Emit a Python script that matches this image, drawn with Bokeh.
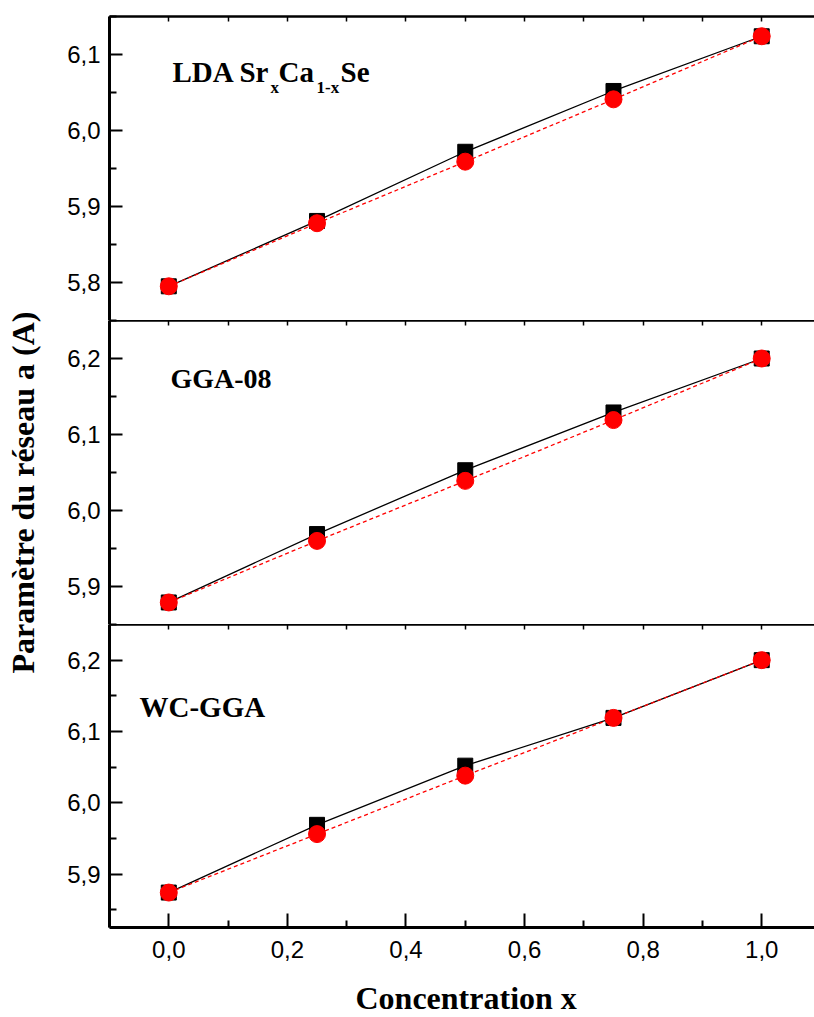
import math
from bokeh.plotting import figure
from bokeh.models import Range1d, LinearAxis, FixedTicker, Label
from bokeh.layouts import row, column
from bokeh.embed import file_html
from bokeh.resources import INLINE

# ---------------- data ----------------
x_conc = [0.0, 0.25, 0.5, 0.75, 1.0]

lda_black = [5.795, 5.881, 5.972, 6.052, 6.124]
lda_red = [5.795, 5.878, 5.959, 6.041, 6.124]

gga_black = [5.879, 5.969, 6.053, 6.129, 6.200]
gga_red = [5.879, 5.960, 6.039, 6.119, 6.200]

wc_black = [5.874, 5.969, 6.052, 6.119, 6.200]
wc_red = [5.874, 5.956, 6.038, 6.119, 6.200]

x_ticks = [0.0, 0.2, 0.4, 0.6, 0.8, 1.0]
x_tick_labels = ["0,0", "0,2", "0,4", "0,6", "0,8", "1,0"]
x_minor = [-0.1, 0.1, 0.3, 0.5, 0.7, 0.9]

lda_yticks = [5.8, 5.9, 6.0, 6.1]
lda_ylabels = ["5,8", "5,9", "6,0", "6,1"]
lda_yminor = [5.75, 5.85, 5.95, 6.05, 6.15]

gga_yticks = [5.9, 6.0, 6.1, 6.2]
gga_ylabels = ["5,9", "6,0", "6,1", "6,2"]
gga_yminor = [5.85, 5.95, 6.05, 6.15, 6.25]

wc_yticks = [5.9, 6.0, 6.1, 6.2]
wc_ylabels = ["5,9", "6,0", "6,1", "6,2"]
wc_yminor = [5.85, 5.95, 6.05, 6.15, 6.25]

x_title = "Concentration x"
y_title = "Paramètre du réseau a (A)"

# ---------------- layout constants (page px) ----------------
TOTAL_W, TOTAL_H = 814, 1017
X0, X1 = -0.1, 1.089
FRAME_L, FRAME_R = 109, 814
LABEL_W = 45
COL_W = TOTAL_W - LABEL_W
SERIF = "Liberation Serif"
SANS = "Liberation Sans"
BASE_FIX = 0.41   # em shift applied to label anchors

H1, H2, H3 = 320, 304, 345
XL_H = TOTAL_H - H1 - H2 - H3

x_range = Range1d(X0, X1)


def make_panel(ymin, ymax, height, border_top, border_bottom, yt, yl, ym, with_bottom):
    p = figure(width=COL_W, height=height, x_range=x_range, y_range=Range1d(ymin, ymax),
               output_backend="svg", toolbar_location=None,
               x_axis_location=None, y_axis_location=None,
               min_border_left=FRAME_L - LABEL_W, min_border_right=0,
               min_border_top=border_top, min_border_bottom=border_bottom)
    p.outline_line_color = None
    p.background_fill_color = "white"
    p.border_fill_color = "white"

    left = LinearAxis(ticker=FixedTicker(ticks=yt, minor_ticks=ym),
                      major_label_overrides=dict(zip(yt, yl)))
    left.axis_line_width = 3
    left.major_tick_in = 13
    left.major_tick_out = 0
    left.minor_tick_in = 7
    left.minor_tick_out = 0
    left.major_tick_line_width = 2
    left.minor_tick_line_width = 2
    left.major_label_standoff = 9
    left.major_label_text_font = SANS
    left.major_label_text_font_size = "24px"
    left.major_label_text_color = "black"
    p.add_layout(left, "left")

    # top border: only small inward ticks, no labels
    top = LinearAxis(ticker=FixedTicker(ticks=[], minor_ticks=x_ticks + x_minor))
    top.axis_line_width = 2.5
    top.major_tick_in = 0
    top.major_tick_out = 0
    top.minor_tick_in = 5
    top.minor_tick_out = 0
    top.minor_tick_line_width = 1.5
    top.major_label_standoff = 0
    p.add_layout(top, "above")

    if with_bottom:
        bot = LinearAxis(ticker=FixedTicker(ticks=x_ticks, minor_ticks=x_minor),
                         major_label_overrides=dict(zip(x_ticks, x_tick_labels)))
        bot.axis_line_width = 3
        bot.major_tick_in = 14
        bot.major_tick_out = 0
        bot.minor_tick_in = 7
        bot.minor_tick_out = 0
        bot.major_tick_line_width = 2
        bot.minor_tick_line_width = 2
        bot.major_label_standoff = 13
        bot.major_label_text_font = SANS
        bot.major_label_text_font_size = "24px"
        bot.major_label_text_color = "black"
        p.add_layout(bot, "below")
    return p


def draw_series(p, black, red):
    p.line(x_conc, black, line_color="black", line_width=1.3)
    p.line(x_conc, red, line_color="#FF0000", line_width=1.3, line_dash="4 3")
    p.scatter(x_conc, black, marker="square", size=15, fill_color="black", line_color="black")
    p.scatter(x_conc, red, marker="circle", size=17, fill_color="#FF0000", line_color="#FF0000")


def pix_to_data(px, py, top_px, height_px, ymin, ymax):
    x = X0 + (px - FRAME_L) / (FRAME_R - FRAME_L) * (X1 - X0)
    y = ymax - (py - top_px) / height_px * (ymax - ymin)
    return x, y


def add_text(p, text, px, py, size, frame):
    x, y = pix_to_data(px, py - BASE_FIX * size, *frame)
    p.add_layout(Label(x=x, y=y, text=text, text_font=SERIF, text_font_size=f"{size}px",
                       text_font_style="bold", text_color="black",
                       text_align="left", text_baseline="alphabetic"))


# panel 1 (LDA)
f1 = (16, 304, 5.75, 6.15)
p1 = make_panel(5.75, 6.15, H1, 16, 0, lda_yticks, lda_ylabels, lda_yminor, False)
draw_series(p1, lda_black, lda_red)
add_text(p1, "LDA Sr", 172, 83, 29, f1)
add_text(p1, "x", 270, 94, 17, f1)
add_text(p1, "Ca", 278, 83, 29, f1)
add_text(p1, "1-x", 316, 94, 17, f1)
add_text(p1, "Se", 340, 83, 29, f1)

# panel 2 (GGA-08)
f2 = (320, 304, 5.85, 6.25)
p2 = make_panel(5.85, 6.25, H2, 0, 0, gga_yticks, gga_ylabels, gga_yminor, False)
draw_series(p2, gga_black, gga_red)
add_text(p2, "GGA-08", 170, 389, 28, f2)

# panel 3 (WC-GGA)
f3 = (624, 303, 5.825, 6.25)
p3 = make_panel(5.825, 6.25, H3, 0, H3 - 303, wc_yticks, wc_ylabels, wc_yminor, True)
draw_series(p3, wc_black, wc_red)
add_text(p3, "WC-GGA", 139, 718, 29, f3)

for p in (p1, p2, p3):
    p.grid.visible = False

# x-axis title strip: frame aligned with the panels' frames, x range in page pixels
px_lab = figure(width=COL_W, height=XL_H, x_range=Range1d(FRAME_L, FRAME_R), y_range=Range1d(0, XL_H),
                output_backend="svg", toolbar_location=None,
                x_axis_location=None, y_axis_location=None,
                min_border_left=FRAME_L - LABEL_W, min_border_right=0,
                min_border_top=0, min_border_bottom=0)
px_lab.outline_line_color = None
px_lab.grid.visible = False
px_lab.add_layout(Label(x=355, y=TOTAL_H - (1011 - BASE_FIX * 32), text=x_title,
                        text_font=SERIF, text_font_size="32px", text_font_style="bold",
                        text_color="black", text_align="left", text_baseline="alphabetic"))

# y-axis title strip
py_lab = figure(width=LABEL_W, height=TOTAL_H, x_range=Range1d(0, LABEL_W), y_range=Range1d(0, TOTAL_H),
                output_backend="svg", toolbar_location=None,
                x_axis_location=None, y_axis_location=None,
                min_border_left=0, min_border_right=0, min_border_top=0, min_border_bottom=0)
py_lab.outline_line_color = None
py_lab.grid.visible = False
py_lab.add_layout(Label(x=36 - BASE_FIX * 32, y=TOTAL_H - 492, text=y_title, angle=math.pi / 2,
                        text_font=SERIF, text_font_size="32px", text_font_style="bold",
                        text_color="black", text_align="center", text_baseline="alphabetic"))

layout = row(py_lab, column(p1, p2, p3, px_lab, spacing=0), spacing=0)

open("out.html", "w").write(file_html(layout, INLINE))
